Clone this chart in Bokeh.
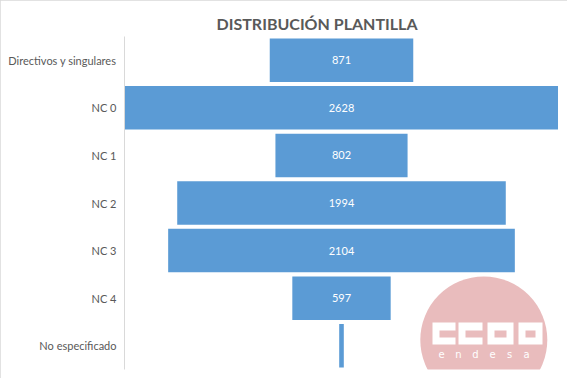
from bokeh.plotting import figure
from bokeh.models import Range1d, FixedTicker, ColumnDataSource
from bokeh.core.properties import value
from bokeh.embed import file_html
from bokeh.resources import INLINE

# ---- data ----
categories = ["Directivos y singulares", "NC 0", "NC 1", "NC 2", "NC 3", "NC 4", "No especificado"]
counts = [871, 2628, 802, 1994, 2104, 597, 28]
show_label = [True, True, True, True, True, True, False]
title_text = "DISTRIBUCIÓN PLANTILLA"

# ---- layout constants (figure pixel space) ----
FRAME_W, FRAME_H = 434, 333
BORDER_L, BORDER_T = 124, 36
FIG_W, FIG_H = 567, 378
HALF = 1317
XMIN, XMAX = -HALF, HALF
YTOP, YBOT = -0.5, len(categories) - 0.5

BAR = "#5B9BD5"
TXT = "#595959"
FONT = "Lato"

p = figure(frame_width=FRAME_W, frame_height=FRAME_H,
           min_border_left=BORDER_L, min_border_right=FIG_W - BORDER_L - FRAME_W,
           min_border_top=BORDER_T, min_border_bottom=FIG_H - BORDER_T - FRAME_H,
           x_range=Range1d(XMIN, XMAX), y_range=Range1d(YBOT, YTOP),
           output_backend="svg", toolbar_location=None, tools="")
p.outline_line_color = None
p.xgrid.visible = False
p.ygrid.visible = False
p.xaxis.visible = False
p.styles = {"outline": "1px solid #D9D9D9", "outline-offset": "-1px"}

p.title.text = title_text
p.title.align = "right"
p.title.offset = 141
p.title.text_font = FONT
p.title.text_font_style = "bold"
p.title.text_font_size = "16px"
p.title.text_color = TXT
p.title.standoff = 7

yax = p.yaxis[0]
yax.ticker = FixedTicker(ticks=list(range(len(categories))))
yax.major_label_overrides = {i: c for i, c in enumerate(categories)}
yax.axis_line_color = "#D9D9D9"
yax.major_tick_line_color = None
yax.major_tick_out = 0
yax.major_tick_in = 0
yax.minor_tick_line_color = None
yax.major_label_text_font = FONT
yax.major_label_text_font_size = "11px"
yax.major_label_text_color = TXT
yax.major_label_standoff = 8

# pixel -> data helpers for decoration (reference page coords -> data)
def px_x(page_x):
    fx = page_x - BORDER_L
    return XMIN + fx * (XMAX - XMIN) / FRAME_W

def px_y(page_y):
    fy = page_y - BORDER_T
    return YTOP + fy * (YBOT - YTOP) / FRAME_H

# ---- logo (decoration) ----
LOGO_PINK = "#E9BCBD"
p.circle(x=[px_x(483.3)], y=[px_y(339.5)], radius=63.5, radius_units="screen",
         fill_color=LOGO_PINK, line_color=None)
letters = [(432, 455, "C"), (458, 482, "C"), (487, 513, "O"), (518, 542, "O")]
top_, bot_ = 322, 344
in_top, in_bot = 330, 337
stroke = 7
for l, r, kind in letters:
    p.quad(left=[px_x(l)], right=[px_x(r)], top=[px_y(top_)], bottom=[px_y(bot_)],
           fill_color="white", line_color=None)
    ir = r + 1 if kind == "C" else r - stroke
    p.quad(left=[px_x(l + stroke)], right=[px_x(ir)], top=[px_y(in_top)], bottom=[px_y(in_bot)],
           fill_color=LOGO_PINK, line_color=None)
logo_word = list("endesa")
p.text(x=[px_x(441 + 17 * i) for i in range(len(logo_word))], y=[px_y(353.5)] * len(logo_word),
       text=logo_word, text_color="white", text_font=value("DejaVu Sans"),
       text_font_size="10px", text_align="center", text_baseline="middle")

# ---- bars ----
src = ColumnDataSource(dict(
    y=list(range(len(categories))),
    left=[-c / 2 for c in counts],
    right=[c / 2 for c in counts],
    lab=[str(c) if s else "" for c, s in zip(counts, show_label)],
    x=[0] * len(counts),
))
p.hbar(y="y", left="left", right="right", height=0.915, source=src,
       fill_color=BAR, line_color=None)
p.text(x="x", y="y", text="lab", source=src, text_color="white",
       text_font=value(FONT), text_font_size="11px",
       text_align="center", text_baseline="middle")

open("out.html", "w").write(file_html(p, INLINE))
